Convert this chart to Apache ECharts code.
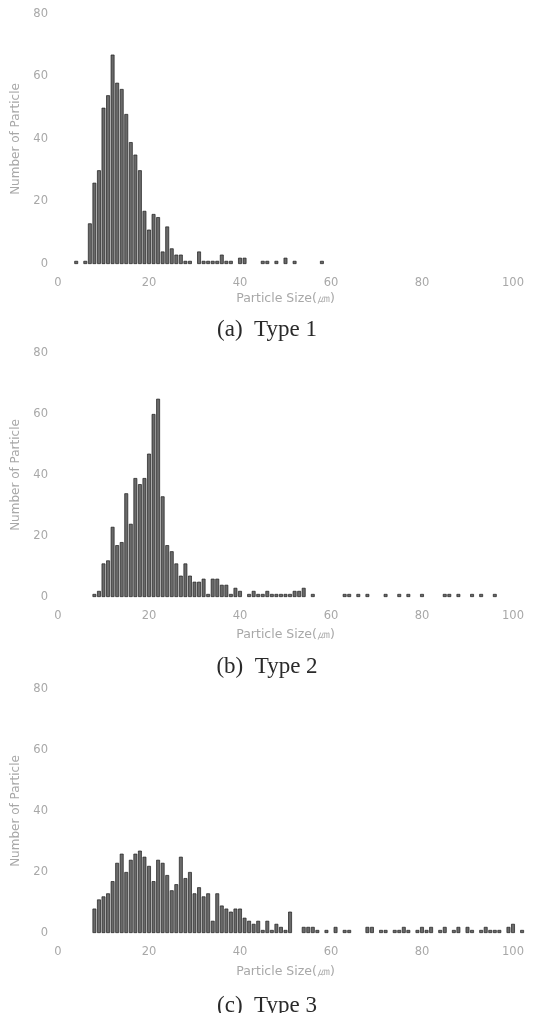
<!DOCTYPE html>
<html>
<head>
<meta charset="utf-8">
<script src="https://cdn.jsdelivr.net/npm/echarts@6/dist/echarts.min.js"></script>
<style>
  html, body { margin: 0; padding: 0; background: #fff; }
  #main { width: 534px; height: 1013px; }
</style>
</head>
<body>
<div id="main"></div>
<script>
// particle size histograms, 1 um bins
var sizeA = [4,6,7,8,9,10,11,12,13,14,15,16,17,18,19,20,21,22,23,24,25,26,27,28,29,31,32,33,34,35,36,37,38,40,41,45,46,48,50,52,58];
var countA = [1,1,13,26,30,50,54,67,58,56,48,39,35,30,17,11,16,15,4,12,5,3,3,1,1,4,1,1,1,1,3,1,1,2,2,1,1,1,2,1,1];

var sizeB = [8,9,10,11,12,13,14,15,16,17,18,19,20,21,22,23,24,25,26,27,28,29,30,31,32,33,34,35,36,37,38,39,40,
  42,43,44,45,46,47,48,49,50,51,52,53,54,56,63,64,66,68,72,75,77,80,85,86,88,91,93,96];
var countB = [1,2,11,12,23,17,18,34,24,39,37,39,47,60,65,33,17,15,11,7,11,7,5,5,6,1,6,6,4,4,1,3,2,
  1,2,1,1,2,1,1,1,1,1,2,2,3,1,1,1,1,1,1,1,1,1,1,1,1,1,1,1];

var sizeC = [8,9,10,11,12,13,14,15,16,17,18,19,20,21,22,23,24,25,26,27,28,29,30,31,32,33,34,35,36,37,38,39,40,41,42,43,44,45,46,47,48,49,50,51,
  54,55,56,57,59,61,63,64,68,69,71,72,74,75,76,77,79,80,81,82,84,85,87,88,90,91,93,94,95,96,97,99,100,102];
var countC = [8,11,12,13,17,23,26,20,24,26,27,25,22,17,24,23,19,14,16,25,18,20,13,15,12,13,4,13,9,8,7,8,8,5,4,3,4,1,4,1,3,2,1,7,
  2,2,2,1,1,2,1,1,2,2,1,1,1,1,2,1,1,2,1,2,1,2,1,2,2,1,1,2,1,1,1,2,3,1];

var xTicks = [0, 20, 40, 60, 80, 100];
var yTicks = [0, 20, 40, 60, 80];
var captions = ['(a)  Type 1', '(b)  Type 2', '(c)  Type 3'];

var panels = [
  { size: sizeA, count: countA, top: 14, height: 250, nameGap: 28, capTop: 313 },
  { size: sizeB, count: countB, top: 353, height: 244, nameGap: 31, capTop: 650 },
  { size: sizeC, count: countC, top: 689, height: 244, nameGap: 32, capTop: 989 }
];

var labelColor = '#a8a8a8';
var labelFont = 'DejaVu Sans';
var grids = [], xAxes = [], yAxes = [], series = [], titles = [];

panels.forEach(function (p, i) {
  grids.push({ left: 58, width: 455, top: p.top, height: p.height });
  xAxes.push({
    type: 'value', gridIndex: i,
    min: xTicks[0], max: xTicks[xTicks.length - 1], interval: xTicks[1] - xTicks[0],
    axisLine: { show: false }, axisTick: { show: false }, splitLine: { show: false },
    axisLabel: { color: labelColor, fontSize: 11.5, fontFamily: labelFont, margin: 13 },
    name: 'Particle Size(㎛)', nameLocation: 'middle', nameGap: p.nameGap,
    nameTextStyle: { color: labelColor, fontSize: 12.5, fontFamily: labelFont }
  });
  yAxes.push({
    type: 'value', gridIndex: i,
    min: yTicks[0], max: yTicks[yTicks.length - 1], interval: yTicks[1] - yTicks[0],
    axisLine: { show: false }, axisTick: { show: false }, splitLine: { show: false },
    axisLabel: { color: labelColor, fontSize: 11.5, fontFamily: labelFont, margin: 10 },
    name: 'Number of Particle', nameLocation: 'middle', nameGap: 36,
    nameTextStyle: { color: labelColor, fontSize: 12, fontFamily: labelFont }
  });
  var data = [];
  for (var k = 0; k < p.size.length; k++) data.push([p.size[k], p.count[k]]);
  series.push({
    type: 'bar', xAxisIndex: i, yAxisIndex: i,
    data: data, barWidth: 3.8, clip: false,
    itemStyle: { color: '#6a6a6a', borderColor: '#1c1c1c', borderWidth: 0.7 }
  });
  titles.push({
    text: captions[i], left: 'center', top: p.capTop,
    textStyle: { fontFamily: 'Liberation Serif', fontWeight: 'normal', fontSize: 23, color: '#2a2a2a' }
  });
});

var chart = echarts.init(document.getElementById('main'), null, { renderer: 'canvas' });
chart.setOption({
  backgroundColor: '#ffffff',
  animation: false,
  title: titles,
  grid: grids,
  xAxis: xAxes,
  yAxis: yAxes,
  series: series
});
</script>
</body>
</html>
